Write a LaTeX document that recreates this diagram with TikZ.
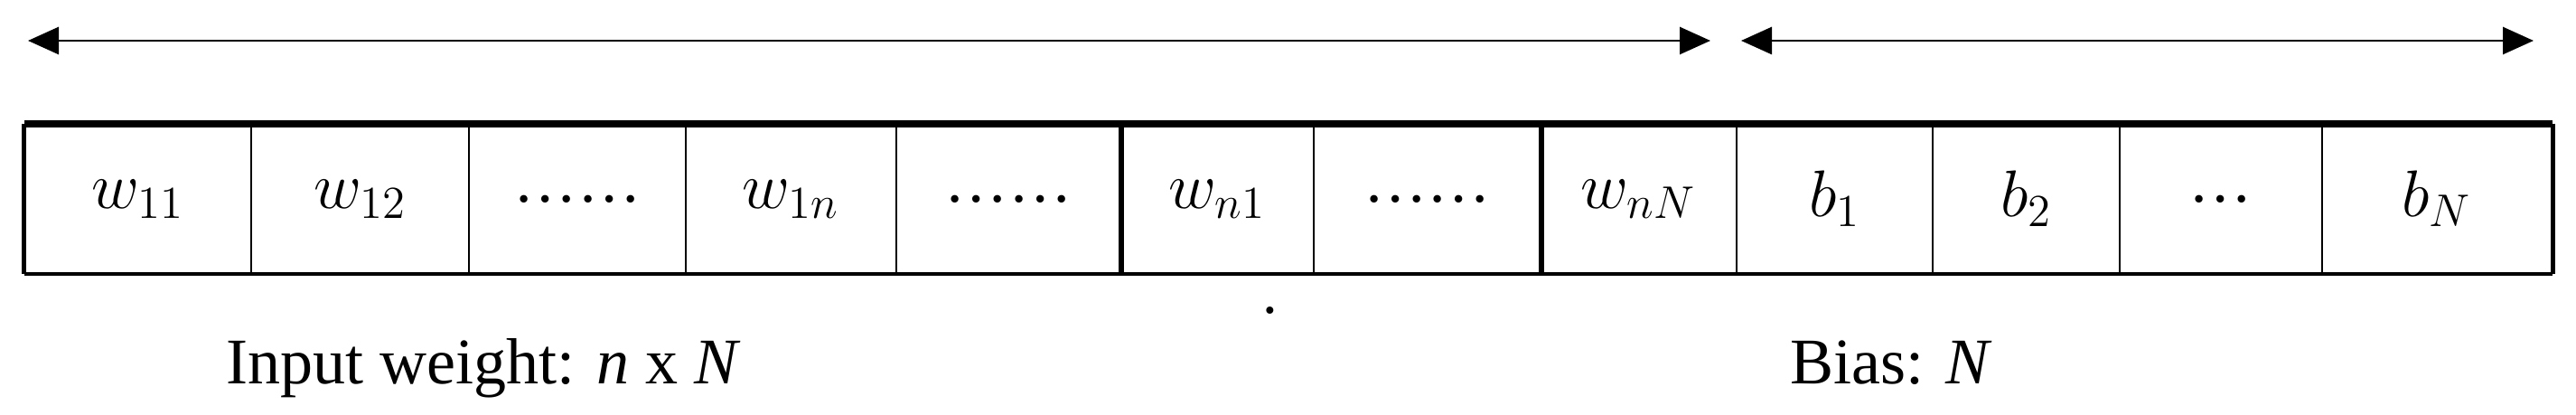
\documentclass[tikz,border=0pt]{standalone}
\usepackage{fontspec}
\setmainfont{Liberation Serif}
\usepackage{tikz}
\usetikzlibrary{arrows.meta, positioning}

\begin{document}
\begin{tikzpicture}[>={Triangle[length=3.4mm, width=3mm]}, line width=0.7pt,
    cell/.style={draw, inner sep=0pt, minimum height=1.64cm, font=\fontsize{20}{24}\selectfont},
    lab/.style={anchor=base, font=\fontsize{20.5}{24}\selectfont}]
    \useasboundingbox (0,0) rectangle (28.51,4.59);
    % cells of the vector
    \foreach \a/\b/\txt [count=\i] in {0.28/2.78/{$w_{11}$}, 2.78/5.19/{$w_{12}$}, 5.19/7.59/{\ldots\ldots},
        7.59/9.92/{$w_{1n}$}, 9.92/12.40/{\ldots\ldots}, 12.40/14.54/{$w_{n1}$}, 14.54/17.05/{\ldots\ldots},
        17.05/19.22/{$w_{nN}$}, 19.22/21.39/{$b_1$}, 21.39/23.46/{$b_2$}, 23.46/25.70/{\ldots},
        25.70/28.24/{$b_N$}}
    {
        \pgfmathsetmacro\cellw{\b-\a}
        \node[cell, minimum width=\cellw cm] (c\i) at ({(\a+\b)/2},2.39) {\txt};
    }
    \draw[line width=2.2pt] (c1.north west) -- (c12.north east);
    \draw[line width=1.1pt] (c1.south west) -- (c12.south east);
    \draw[line width=1.4pt] (c1.north west) -- (c1.south west);
    \draw[line width=1.4pt] (c12.north east) -- (c12.south east);
    \draw[line width=1.7pt] (c5.north east) -- (c5.south east);
    \draw[line width=1.7pt] (c7.north east) -- (c7.south east);
    % extents
    \coordinate (wl) at (0.31,4.14);
    \coordinate (wr) at (18.93,4.14);
    \coordinate (bl) at (19.27,4.14);
    \coordinate (br) at (28.04,4.14);
    \draw[<->, line width=0.8pt] (wl) -- (wr);
    \draw[<->, line width=0.8pt] (bl) -- (br);
    % labels
    \node[lab] (inw) at (5.35,0.34) {Input weight: \textit{n} x \textit{N}};
    \node[lab] (bias) at (20.93,0.34) {Bias: \textit{N}};
    \node[inner sep=0pt, font=\fontsize{19}{23}\selectfont] (dot) at (14.06,1.15) {.};
\end{tikzpicture}
\end{document}
